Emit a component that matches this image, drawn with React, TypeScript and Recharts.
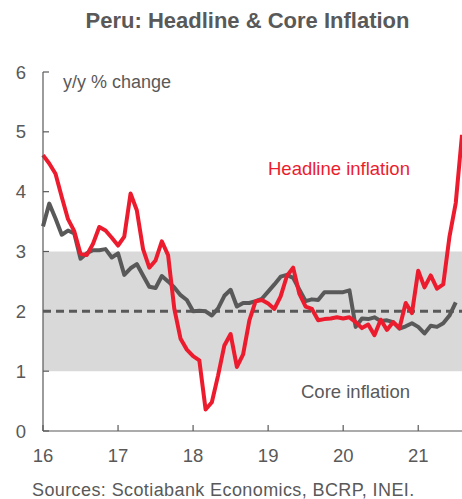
import React from "react"
import {
  Line,
  LineChart,
  ReferenceArea,
  ReferenceLine,
  XAxis,
  YAxis,
} from "recharts"

// monthly, Jan 2016 = index 0
const yearTicks = [0, 12, 24, 36, 48, 60]
const yearLabels = ["16", "17", "18", "19", "20", "21"]
const valueTicks = [0, 1, 2, 3, 4, 5, 6]

// headline CPI, y/y % (Jan 2016 - Aug 2021)
const headline = [
  4.61, 4.47, 4.3, 3.91, 3.54, 3.34, 2.96, 2.94, 3.13, 3.41, 3.35, 3.23,
  3.1, 3.25, 3.97, 3.69, 3.04, 2.73, 2.85, 3.17, 2.94, 2.04, 1.54, 1.36,
  1.25, 1.18, 0.36, 0.48, 0.93, 1.43, 1.62, 1.07, 1.28, 1.85, 2.17, 2.19,
  2.13, 2.04, 2.25, 2.59, 2.73, 2.29, 2.08, 2.04, 1.85, 1.87, 1.88, 1.9,
  1.88, 1.9, 1.82, 1.72, 1.78, 1.6, 1.86, 1.69, 1.82, 1.72, 2.14, 1.97,
  2.68, 2.4, 2.6, 2.38, 2.45, 3.25, 3.81, 4.95,
]

// core CPI, y/y % (Jan 2016 - Jul 2021)
const core = [
  3.42, 3.8, 3.55, 3.28, 3.35, 3.3, 2.88, 2.97, 3.02, 3.02, 3.04, 2.9,
  2.97, 2.61, 2.72, 2.79, 2.6, 2.41, 2.39, 2.59, 2.5, 2.4, 2.27, 2.19,
  2.0, 2.01, 2.0, 1.93, 2.05, 2.26, 2.36, 2.08, 2.14, 2.14, 2.17, 2.21,
  2.33, 2.45, 2.58, 2.61, 2.56, 2.36, 2.17, 2.2, 2.19, 2.32, 2.32, 2.32,
  2.32, 2.35, 1.74, 1.88, 1.87, 1.9, 1.84, 1.85, 1.82, 1.71, 1.75, 1.8,
  1.74, 1.63, 1.76, 1.74, 1.8, 1.93, 2.15,
]

const data = headline.map((h, i) => ({
  i,
  headline: h,
  core: i < core.length ? core[i] : null,
}))

const GREY = "#595959"
const RED = "#EC1C2E"
const FONT = "'Liberation Sans', Arial, sans-serif"

// tick marks point inward, like the original
function YTick({ x, y, payload }: any) {
  return (
    <g>
      <line x1={x} y1={y} x2={x + 6} y2={y} stroke={GREY} strokeWidth={1.2} />
      <text
        x={x - 17}
        y={y + 6.5}
        textAnchor="end"
        fill={GREY}
        fontSize={18.5}
        fontFamily={FONT}
      >
        {payload.value}
      </text>
    </g>
  )
}

function XTick({ x, y, payload }: any) {
  const label = yearLabels[yearTicks.indexOf(payload.value)]
  return (
    <g>
      <line x1={x} y1={y} x2={x} y2={y - 6} stroke={GREY} strokeWidth={1.2} />
      <text
        x={x}
        y={y + 30.5}
        textAnchor="middle"
        fill={GREY}
        fontSize={18.5}
        fontFamily={FONT}
      >
        {label}
      </text>
    </g>
  )
}

const label = (left: number, top: number, size: number, color: string, extra = {}) => ({
  position: "absolute" as const,
  left,
  top,
  fontSize: size,
  lineHeight: 1,
  color,
  fontFamily: FONT,
  whiteSpace: "nowrap" as const,
  ...extra,
})

export default function App() {
  return (
    <div style={{ position: "absolute", left: 0, top: 0, width: 462, height: 499, background: "#fff" }}>
      <LineChart
        width={462}
        height={499}
        data={data}
        margin={{ top: 72, right: 0, left: 0, bottom: 0 }}
      >
        <ReferenceArea y1={1} y2={3} fill="#D9D9D9" fillOpacity={1} stroke="none" />
        <ReferenceLine y={2} stroke={GREY} strokeWidth={3} strokeDasharray="8 5" />
        <XAxis
          dataKey="i"
          type="number"
          domain={[0, 67]}
          ticks={yearTicks}
          tick={<XTick />}
          tickLine={false}
          tickSize={0}
          tickMargin={0}
          height={68}
          axisLine={{ stroke: GREY, strokeWidth: 1.2 }}
          interval={0}
        />
        <YAxis
          type="number"
          domain={[0, 6]}
          ticks={valueTicks}
          tick={<YTick />}
          tickLine={false}
          tickSize={0}
          tickMargin={0}
          width={43}
          axisLine={{ stroke: GREY, strokeWidth: 1.2 }}
          interval={0}
        />
        <Line
          type="linear"
          dataKey="core"
          stroke={GREY}
          strokeWidth={4}
          dot={false}
          strokeLinejoin="round"
          isAnimationActive={false}
        />
        <Line
          type="linear"
          dataKey="headline"
          stroke={RED}
          strokeWidth={4}
          dot={false}
          strokeLinejoin="round"
          isAnimationActive={false}
        />
      </LineChart>
      <div style={label(247.5, 9.5, 22, GREY, { fontWeight: 700, transform: "translateX(-50%)" })}>
        Peru: Headline &amp; Core Inflation
      </div>
      <div style={label(63, 73, 18, GREY)}>y/y % change</div>
      <div style={label(268, 160, 18.5, RED)}>Headline inflation</div>
      <div style={label(301, 383, 18.5, GREY)}>Core inflation</div>
      <div style={label(32, 480.5, 18, GREY, { letterSpacing: 0.4 })}>
        Sources: Scotiabank Economics, BCRP, INEI.
      </div>
    </div>
  )
}
